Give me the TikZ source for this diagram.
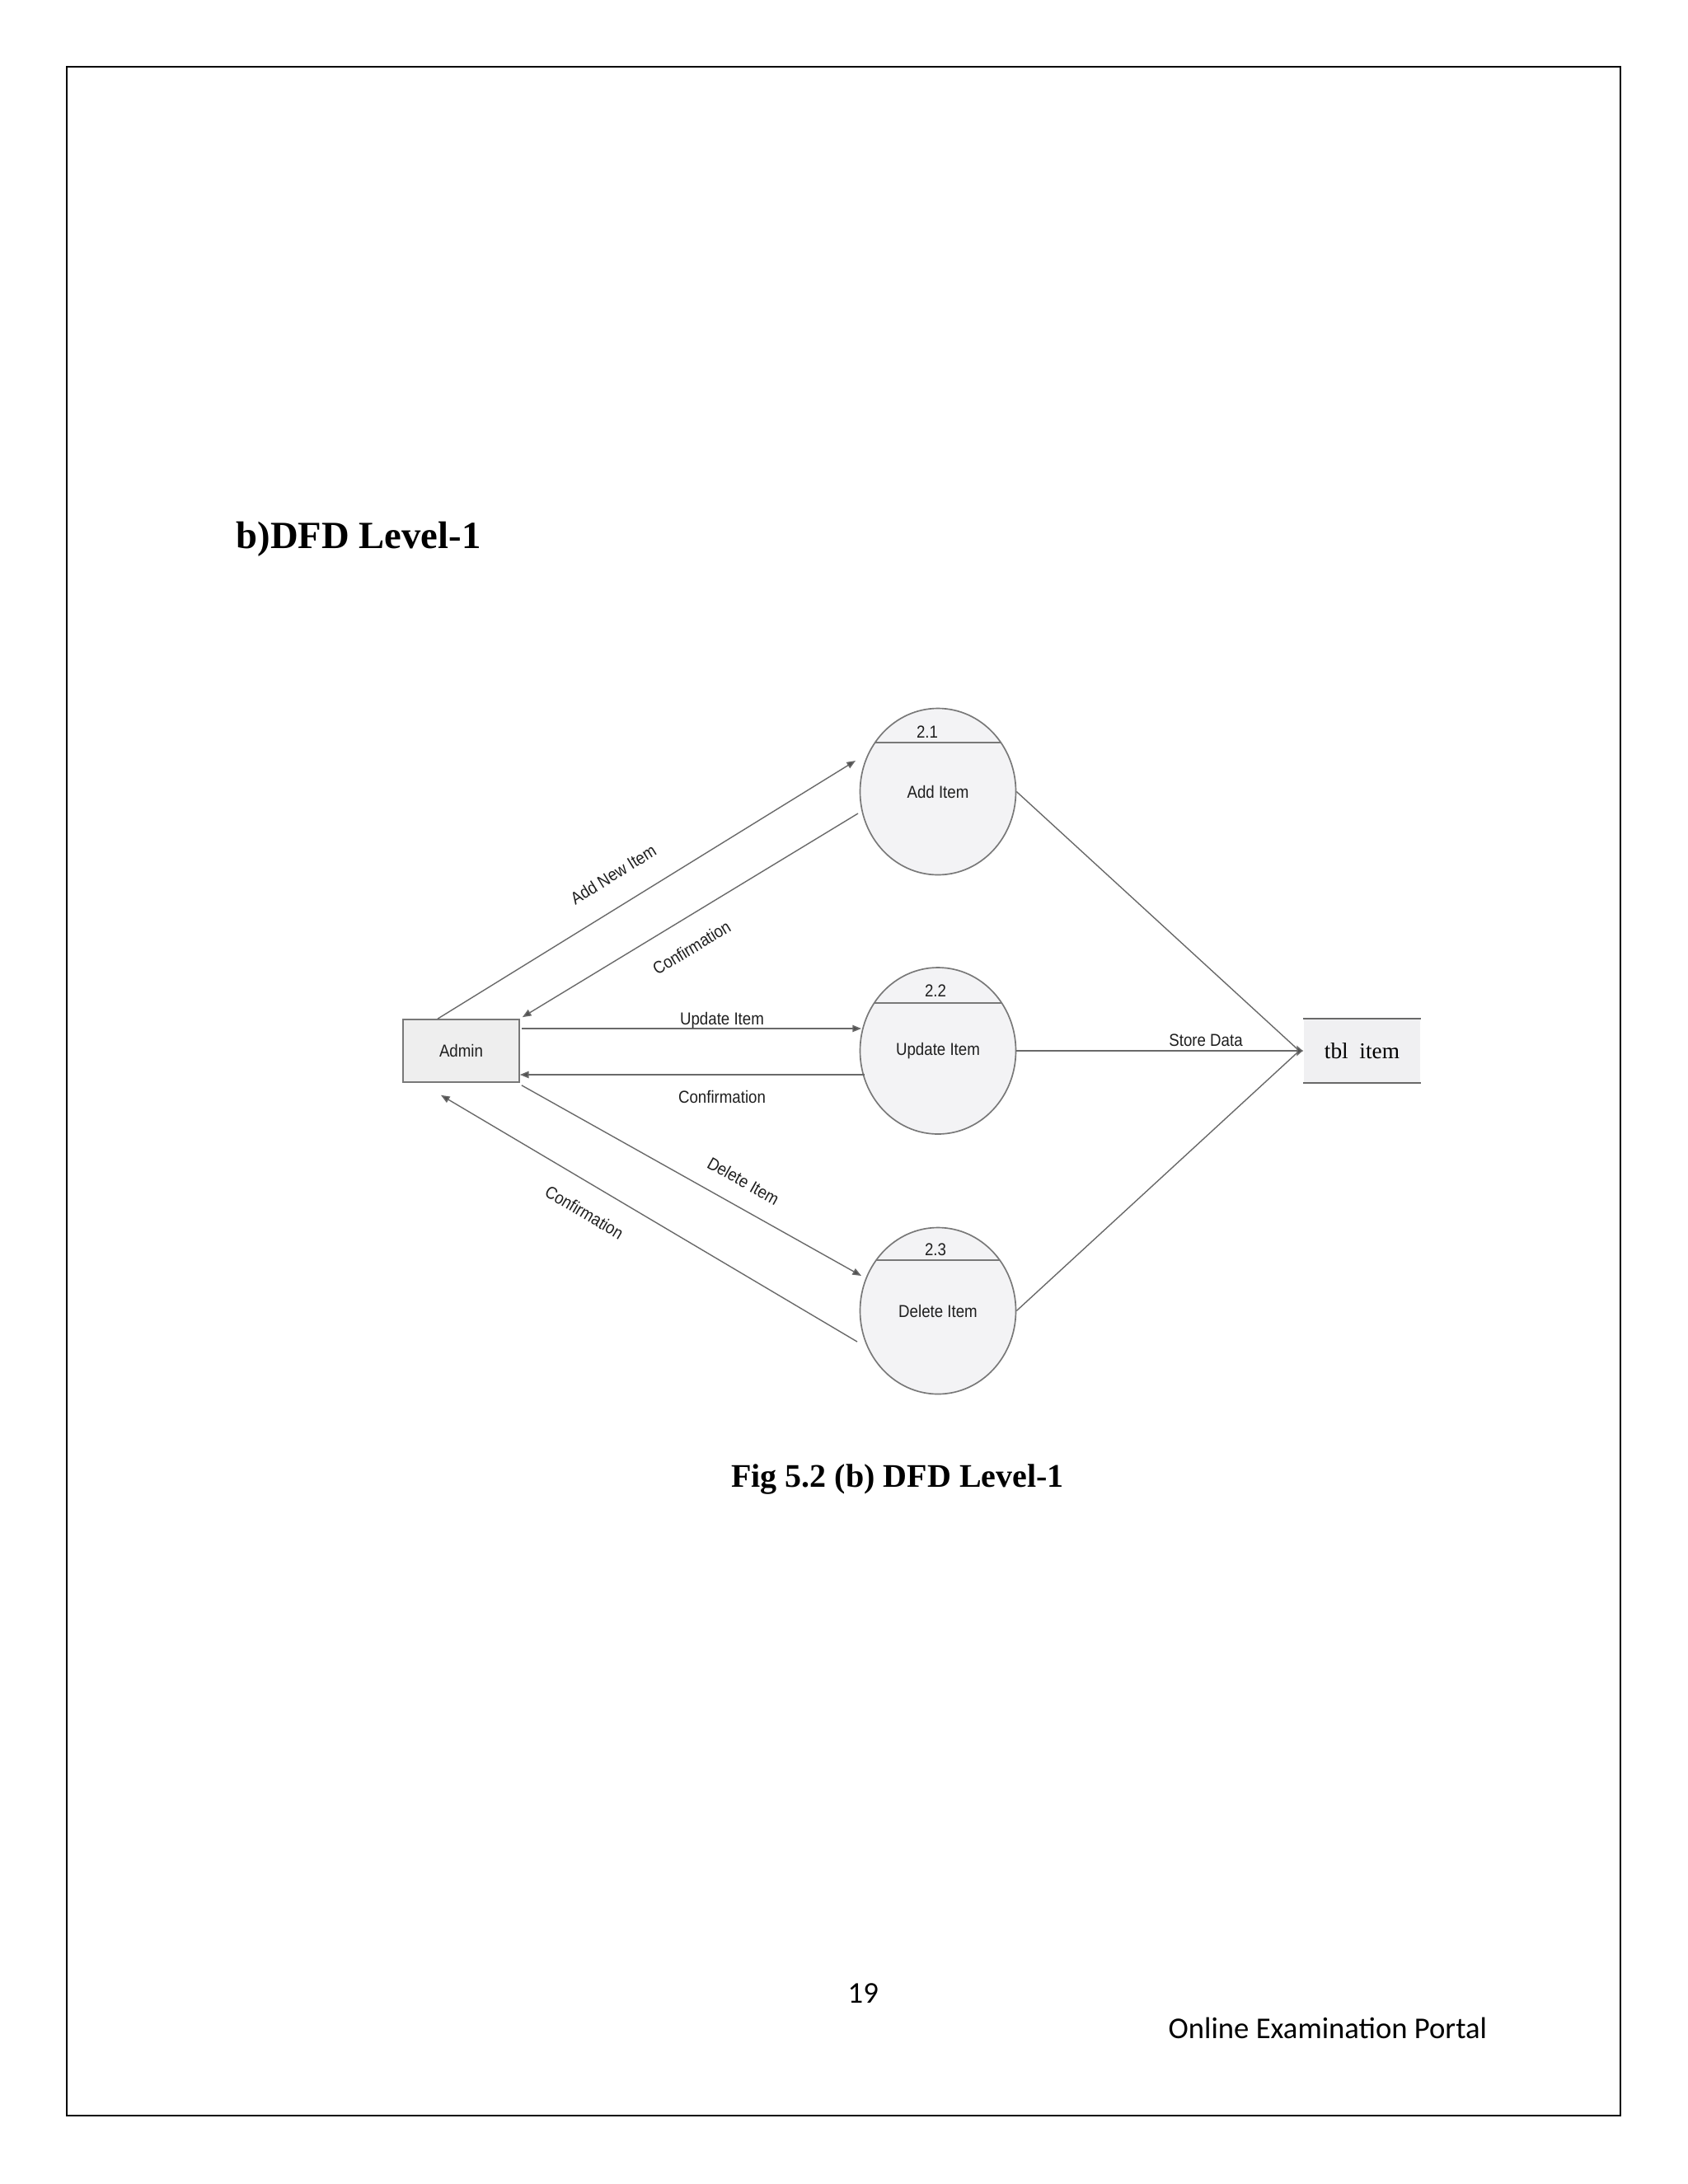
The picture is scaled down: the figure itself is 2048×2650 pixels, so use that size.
\documentclass[tikz,border=0pt]{standalone}
\usepackage{fontspec}
\setmainfont{Liberation Serif}
\newfontfamily\dfdfont[FakeStretch=0.89]{Liberation Sans}
\newfontfamily\footfont{Carlito}
\usetikzlibrary{arrows.meta,shapes.geometric,calc}
\definecolor{linegray}{RGB}{105,105,105}
\definecolor{tipgray}{RGB}{80,80,80}
\definecolor{circgray}{RGB}{120,120,120}
\definecolor{procfill}{RGB}{243,243,245}
\definecolor{boxfill}{RGB}{238,238,238}
\definecolor{storefill}{RGB}{240,240,242}
\begin{document}
\begin{tikzpicture}[x=0.3pt,y=-0.3pt,
  dfdtext/.style={font=\dfdfont\fontsize{6.3}{7.5}\selectfont, text=black!88, inner sep=0pt},
  flow/.style={draw=linegray, line width=0.42pt, -{Triangle[length=3.2pt,width=2.5pt,fill=tipgray]}},
  plainflow/.style={draw=linegray, line width=0.42pt},
  proc/.style={ellipse, draw=circgray, line width=0.5pt, fill=procfill,
    minimum width=56.7pt, minimum height=60.6pt, inner sep=0pt, dfdtext},
  entity/.style={rectangle, draw=circgray, line width=0.5pt, fill=boxfill,
    minimum width=42.3pt, minimum height=22.8pt, inner sep=0pt, dfdtext},
  store/.style={rectangle, fill=storefill, minimum width=42.3pt, minimum height=22.8pt,
    inner sep=0pt, font=\fontsize{8.2}{9}\selectfont},
  storeline/.style={draw=linegray, line width=0.55pt},
  divider/.style={draw=circgray, line width=0.45pt},
]
\useasboundingbox (0,0) rectangle (2048,2650);
\fill[white] (0,0) rectangle (2048,2650);
\draw[black, line width=0.65pt] (81,81) rectangle (1966,2567);

% title
\node[anchor=base west, inner sep=0pt, font=\bfseries\fontsize{14}{16}\selectfont] (title) at (286,665) {b)DFD Level-1};

% nodes
\node[entity] (admin) at (559.5,1275) {Admin};
\node[proc] (p21) at (1138,960.5) {Add Item};
\node[proc] (p22) at (1138,1275) {Update Item};
\node[proc] (p23) at (1138,1590.5) {Delete Item};
\node[store] (tbl) at (1652.5,1275) {tbl\ \ item};
\draw[storeline] (tbl.north west) -- (tbl.north east);
\draw[storeline] (tbl.south west) -- (tbl.south east);

% dividers and numbers
\draw[divider] ($(p21.center)+(-76,-59.5)$) -- ($(p21.center)+(76,-59.5)$);
\draw[divider] ($(p22.center)+(-77,-58)$) -- ($(p22.center)+(77,-58)$);
\draw[divider] ($(p23.center)+(-75,-61.5)$) -- ($(p23.center)+(75,-61.5)$);
\node[dfdtext, anchor=base] (n21) at (1125,895) {2.1};
\node[dfdtext, anchor=base] (n22) at (1135,1209) {2.2};
\node[dfdtext, anchor=base] (n23) at (1135,1523) {2.3};

% flows admin <-> processes
\draw[flow] ($(admin.north)+(-28.5,0)$) -- ($(p21.center)+(-100,-37.5)$);
\draw[flow] ($(p21.center)+(-97,26.5)$) -- ($(admin.north east)+(3,-2)$);
\draw[flow] ($(admin.east)+(2,-27)$) -- ($(p22.center)+(-93,-27)$);
\draw[flow] ($(p22.center)+(-89,29)$) -- ($(admin.east)+(0,29)$);
\draw[flow] ($(admin.south east)+(2,3)$) -- ($(p23.center)+(-93,-42.5)$);
\draw[flow] ($(p23.center)+(-98,37.5)$) -- ($(admin.south)+(-24.5,15)$);

% flow labels
\node[dfdtext, rotate=31.8] (lAdd) at (744,1061) {Add New Item};
\node[dfdtext, rotate=31.3] (lConf1) at (839,1150) {Confirmation};
\node[dfdtext, anchor=base] (lUpd) at (876,1243) {Update Item};
\node[dfdtext, anchor=base] (lConf2) at (876,1338) {Confirmation};
\node[dfdtext, rotate=-29.3] (lDel) at (902,1433) {Delete Item};
\node[dfdtext, rotate=-30.7] (lConf3) at (709,1471) {Confirmation};

% flows processes -> store
\draw[plainflow] (p21.east) -- ($(tbl.west)+(-5,0)$);
\draw[plainflow] (p23.east) -- ($(tbl.west)+(-5,0)$);
\draw[draw=linegray, line width=0.42pt, -{Latex[length=2.4pt,width=4.2pt,fill=tipgray]}] (p22.east) -- (tbl.west);
\node[dfdtext, anchor=base] (lStore) at (1463,1269) {Store Data};

% caption and footer
\node[anchor=base, inner sep=0pt, font=\bfseries\fontsize{12}{14}\selectfont] (caption) at (1089,1804) {Fig 5.2 (b) DFD Level-1};
\node[anchor=base west, inner sep=0pt, font=\footfont\fontsize{11}{13}\selectfont] (pageno) at (1028,2430) {19};
\node[anchor=base west, inner sep=0pt, font=\footfont\fontsize{11}{13}\selectfont] (portal) at (1417,2473) {Online Examination Portal};
\end{tikzpicture}
\end{document}
